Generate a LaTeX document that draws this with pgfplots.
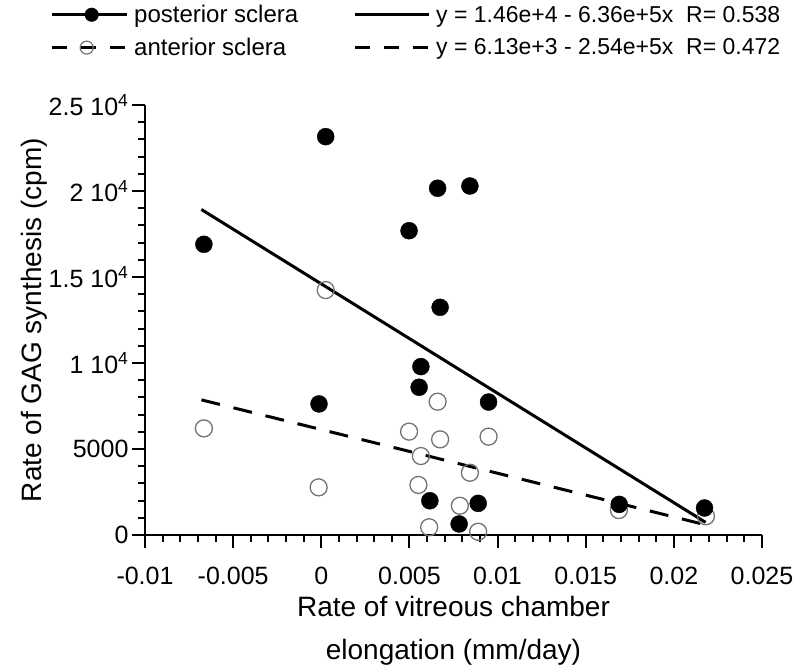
\documentclass[border=0pt]{standalone}
\usepackage{fontspec}
\setmainfont{Liberation Sans}
\usepackage{pgfplots}
\usepackage{pgfplotstable}
\pgfplotsset{compat=1.18}

\pgfplotstableread{
x y
-0.00666 16900
0.00025 23160
0.00660 20160
0.00843 20290
0.00498 17690
0.00674 13240
0.00565 9790
0.00555 8590
0.00949 7730
0.00616 1990
0.00890 1840
0.00782 640
-0.00013 7620
0.01690 1780
0.02174 1570
}\posterior

\pgfplotstableread{
x y
0.00025 14240
-0.00666 6200
-0.00015 2770
0.00660 7750
0.00498 6010
0.00674 5560
0.00949 5720
0.00565 4590
0.00843 3620
0.00551 2910
0.00786 1700
0.00612 450
0.00890 190
0.01688 1450
0.02182 1090
}\anterior

\begin{document}
\begin{tikzpicture}
\path[use as bounding box] (-145pt,-136pt) rectangle (654pt,535pt);
\begin{axis}[
  name=ax, at={(0,0)}, anchor=south west,
  scale only axis, width=617pt, height=430pt,
  xmin=-0.01, xmax=0.025, ymin=0, ymax=25000,
  axis x line=bottom, axis y line=left,
  axis line style={line width=2pt,-},
  scaled ticks=false,
  tick align=outside,
  tick style={draw=black, line width=2pt},
  major tick length=13pt, minor tick length=7pt,
  xtick={-0.01,-0.005,0,0.005,0.01,0.015,0.02,0.025},
  xticklabels={-0.01,-0.005,0,0.005,0.01,0.015,0.02,0.025},
  minor x tick num=4,
  ytick={0,5000,10000,15000,20000,25000},
  yticklabels={0,5000,1 10\textsuperscript{4},1.5 10\textsuperscript{4},2 10\textsuperscript{4},2.5 10\textsuperscript{4}},
  minor y tick num=4,
  ticklabel style={font=\fontsize{25}{30}\selectfont},
  xticklabel style={yshift=-16pt},
  xlabel={Rate of vitreous chamber\\elongation (mm/day)},
  xlabel style={align=center, font=\fontsize{28}{43}\selectfont, at={(axis description cs:0.5,-0.222)}, anchor=center},
  ylabel={Rate of GAG synthesis (cpm)},
  ylabel style={font=\fontsize{28}{34}\selectfont, at={(axis description cs:-0.18,0.5)}, anchor=center},
  clip=false,
  legend columns=2,
  legend cell align=left,
  legend style={at={(axis description cs:-0.154,1.237)}, anchor=north west, draw=none, fill=none,
    font=\fontsize{24}{29}\selectfont, inner sep=0pt,
    row sep=10pt,
    /tikz/every odd column/.append style={column sep=4pt},
    /tikz/every even column/.append style={column sep=53pt}},
]
% explicit tick marks along the axis lines
\pgfplotsinvokeforeach{-0.01,-0.005,0,0.005,0.01,0.015,0.02,0.025}{
  \addplot[black, line width=1.8pt, forget plot] coordinates {(#1,0) (#1,-756)};
}
\pgfplotsinvokeforeach{-0.009,-0.008,-0.007,-0.006,-0.004,-0.003,-0.002,-0.001,0.001,0.002,0.003,0.004,0.006,0.007,0.008,0.009,0.011,0.012,0.013,0.014,0.016,0.017,0.018,0.019,0.021,0.022,0.023,0.024}{
  \addplot[black, line width=1.8pt, forget plot] coordinates {(#1,0) (#1,-407)};
}
\pgfplotsinvokeforeach{0,5000,10000,15000,20000,25000}{
  \addplot[black, line width=1.8pt, forget plot] coordinates {(-0.01,#1) (-0.010737,#1)};
}
\pgfplotsinvokeforeach{1000,2000,3000,4000,6000,7000,8000,9000,11000,12000,13000,14000,16000,17000,18000,19000,21000,22000,23000,24000}{
  \addplot[black, line width=1.8pt, forget plot] coordinates {(-0.01,#1) (-0.010397,#1)};
}
\addplot[only marks, mark=o, mark size=8.5pt, mark options={draw=black!55, line width=1.3pt}, forget plot] table {\anterior};
\addplot[only marks, mark=*, mark size=8.5pt, mark options={draw=black, fill=black}, forget plot] table {\posterior};
\addplot[black, line width=3pt, forget plot] coordinates {(-0.0068,18925) (0.0218,735)};
\addplot[black, line width=3pt, dash pattern=on 19pt off 14pt, forget plot] coordinates {(-0.0068,7857) (0.0218,593)};

\addlegendimage{legend image code/.code={
  \draw[black, line width=3pt] (0pt,0pt) -- (75pt,0pt);
  \fill[black] (40pt,0pt) circle (6.8pt);}}
\addlegendentry{posterior sclera}
\addlegendimage{legend image code/.code={
  \draw[black, line width=3pt] (0pt,0pt) -- (74pt,0pt);}}
\addlegendentry{\fontsize{23}{28}\selectfont y = 1.46e+4 - 6.36e+5x\ \ R= 0.538}
\addlegendimage{legend image code/.code={
  \draw[black, line width=3pt, dash pattern=on 15pt off 14pt] (0pt,0pt) -- (75pt,0pt);
  \draw[black!55, line width=1.2pt] (35pt,0pt) circle (6.5pt);}}
\addlegendentry{anterior sclera}
\addlegendimage{legend image code/.code={
  \draw[black, line width=3pt, dash pattern=on 15pt off 14pt] (0pt,0pt) -- (74pt,0pt);}}
\addlegendentry{\fontsize{23}{28}\selectfont y = 6.13e+3 - 2.54e+5x\ \ R= 0.472}
\end{axis}
\end{tikzpicture}
\end{document}
